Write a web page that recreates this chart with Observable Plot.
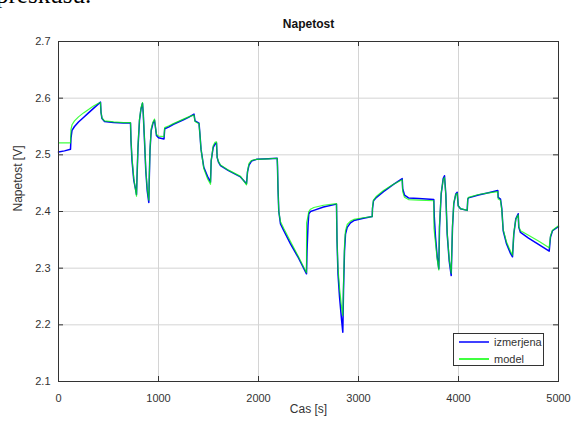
<!DOCTYPE html>
<html>
<head>
<meta charset="utf-8">
<script src="https://cdn.jsdelivr.net/npm/d3@7"></script>
<script src="https://cdn.jsdelivr.net/npm/@observablehq/plot@0.6"></script>
<style>
  html, body { margin: 0; padding: 0; background: white; }
  #wrap { position: relative; width: 574px; height: 421px; overflow: hidden; font-family: "Liberation Sans", Arial, sans-serif; }
  #doctext { position: absolute; left: -4px; top: -19px; font-family: "Liberation Serif", "Times New Roman", serif; font-size: 25px; color: #000; white-space: nowrap; }
  #legend { position: absolute; left: 453px; top: 333px; width: 89px; height: 31px; border: 1px solid #333; background: white; font-size: 11px; color: #333; overflow: hidden; }
  .row { position: absolute; left: 5px; height: 14px; display: flex; align-items: center; }
  .row svg { margin-right: 5px; }
</style>
</head>
<body>
<div id="wrap">
  <div id="chart"></div>
  <div id="doctext">preskusu.</div>
  <div id="legend">
    <div class="row" style="top:1px"><svg width="30" height="4"><line x1="0" x2="30" y1="2" y2="2" stroke="#0000ff" stroke-width="1.5"/></svg><span>izmerjena</span></div>
    <div class="row" style="top:18px"><svg width="30" height="4"><line x1="0" x2="30" y1="2" y2="2" stroke="#00ff00" stroke-width="1.5"/></svg><span>model</span></div>
  </div>
</div>
<script>
const xTicks = [0, 1000, 2000, 3000, 4000, 5000];
const yTicks = [2.1, 2.2, 2.3, 2.4, 2.5, 2.6, 2.7];

const timeMeasured = [0,60,120,125,135,160,200,250,300,350,400,420,425,435,460,550,650,720,725,735,753,770,780,785,795,810,825,840,847,860,873,887,903,908,915,927,945,960,970,980,1000,1055,1062,1100,1150,1200,1250,1300,1355,1365,1405,1415,1425,1453,1490,1520,1527,1547,1565,1580,1587,1600,1620,1700,1820,1880,1890,1905,1930,1980,2100,2187,2190,2195,2203,2220,2253,2320,2400,2480,2485,2495,2503,2520,2553,2650,2780,2785,2795,2810,2830,2843,2850,2860,2870,2887,2920,2953,3050,3137,3140,3150,3180,3250,3350,3437,3442,3460,3500,3600,3753,3758,3770,3787,3803,3810,3827,3847,3860,3873,3887,3907,3927,3940,3953,3973,3987,3997,4020,4087,4093,4100,4200,4300,4393,4397,4420,4433,4447,4480,4520,4540,4553,4573,4597,4603,4620,4700,4800,4907,4920,4940,4987,5000];
const voltageMeasured = [2.505,2.507,2.510,2.530,2.543,2.550,2.558,2.566,2.574,2.582,2.590,2.593,2.575,2.564,2.559,2.557,2.556,2.556,2.525,2.490,2.455,2.440,2.430,2.460,2.513,2.561,2.581,2.591,2.575,2.525,2.472,2.437,2.416,2.460,2.508,2.543,2.556,2.561,2.548,2.534,2.530,2.528,2.546,2.549,2.554,2.558,2.562,2.566,2.572,2.560,2.556,2.535,2.510,2.478,2.462,2.452,2.490,2.513,2.519,2.521,2.495,2.487,2.481,2.472,2.461,2.449,2.470,2.482,2.489,2.492,2.493,2.494,2.480,2.440,2.400,2.378,2.366,2.343,2.318,2.290,2.330,2.375,2.396,2.400,2.402,2.408,2.413,2.350,2.290,2.250,2.210,2.187,2.260,2.330,2.360,2.372,2.380,2.384,2.388,2.391,2.405,2.419,2.425,2.435,2.448,2.458,2.440,2.429,2.424,2.423,2.421,2.390,2.355,2.320,2.299,2.372,2.431,2.458,2.463,2.431,2.360,2.313,2.287,2.372,2.414,2.431,2.434,2.410,2.405,2.402,2.422,2.424,2.429,2.433,2.437,2.425,2.422,2.405,2.366,2.343,2.326,2.320,2.360,2.387,2.396,2.372,2.363,2.353,2.342,2.330,2.355,2.366,2.372,2.373];

const timeModel = [0,120,125,135,160,200,250,300,350,400,420,425,435,460,550,650,720,725,735,753,770,780,785,795,810,825,840,847,860,873,887,903,908,915,927,945,960,970,980,1000,1055,1062,1100,1150,1200,1250,1300,1355,1365,1405,1415,1425,1453,1490,1520,1527,1547,1565,1580,1587,1600,1620,1700,1820,1880,1890,1905,1930,1980,2100,2187,2190,2195,2203,2220,2253,2320,2400,2480,2481,2495,2503,2520,2553,2650,2780,2785,2795,2810,2830,2843,2850,2860,2870,2887,2920,2953,3050,3137,3140,3150,3180,3250,3350,3437,3442,3460,3500,3600,3753,3755,3770,3787,3803,3810,3827,3847,3860,3873,3887,3907,3927,3940,3953,3973,3987,3997,4020,4087,4093,4100,4200,4300,4393,4397,4420,4433,4447,4480,4520,4540,4553,4573,4597,4603,4620,4700,4800,4907,4920,4940,4987,5000];
const voltageModel = [2.521,2.521,2.545,2.553,2.560,2.567,2.574,2.580,2.586,2.591,2.592,2.575,2.565,2.560,2.558,2.557,2.557,2.525,2.495,2.458,2.438,2.427,2.460,2.517,2.563,2.583,2.592,2.575,2.528,2.474,2.442,2.420,2.460,2.510,2.546,2.558,2.563,2.548,2.536,2.533,2.532,2.548,2.551,2.555,2.559,2.563,2.567,2.570,2.559,2.555,2.535,2.510,2.476,2.458,2.448,2.490,2.516,2.522,2.523,2.495,2.488,2.482,2.473,2.462,2.447,2.470,2.485,2.490,2.492,2.493,2.494,2.480,2.440,2.400,2.382,2.370,2.347,2.320,2.292,2.380,2.392,2.400,2.404,2.407,2.411,2.414,2.350,2.300,2.265,2.232,2.216,2.270,2.340,2.366,2.377,2.383,2.386,2.389,2.391,2.408,2.420,2.427,2.437,2.448,2.456,2.435,2.425,2.421,2.420,2.419,2.370,2.345,2.316,2.297,2.375,2.433,2.456,2.460,2.430,2.362,2.316,2.291,2.375,2.416,2.430,2.432,2.410,2.405,2.402,2.423,2.425,2.430,2.433,2.435,2.422,2.420,2.402,2.368,2.346,2.330,2.323,2.362,2.386,2.394,2.373,2.366,2.358,2.348,2.336,2.357,2.367,2.373,2.375];

const measured = timeMeasured.map((t, i) => ({t, v: voltageMeasured[i]}));
const model = timeModel.map((t, i) => ({t, v: voltageModel[i]}));

const W = 574, H = 421, mL = 58, mR = 16, mT = 41, mB = 40;
const plotW = W - mL - mR, plotH = H - mT - mB;
const tick = 5;

const chart = Plot.plot({
  width: W, height: H,
  marginLeft: mL, marginRight: mR, marginTop: mT, marginBottom: mB,
  x: {domain: [0, 5000]},
  y: {domain: [2.1, 2.7]},
  style: {fontFamily: "'Liberation Sans', Arial, sans-serif", fontSize: "11px", color: "#333", background: "white"},
  marks: [
    Plot.gridX(xTicks, {stroke: "#d4d4d4", strokeOpacity: 1}),
    Plot.gridY(yTicks, {stroke: "#d4d4d4", strokeOpacity: 1}),
    Plot.tickX(xTicks, {x: d => d, insetTop: plotH - tick, stroke: "#333"}),
    Plot.tickX(xTicks, {x: d => d, insetBottom: plotH - tick, stroke: "#333"}),
    Plot.tickY(yTicks, {y: d => d, insetRight: plotW - tick, stroke: "#333"}),
    Plot.tickY(yTicks, {y: d => d, insetLeft: plotW - tick, stroke: "#333"}),
    Plot.axisX(xTicks, {tickSize: 0, tickPadding: 13, label: null, tickFormat: d3.format("d"), fill: "#333"}),
    Plot.axisY(yTicks, {tickSize: 0, tickPadding: 8, label: null, tickFormat: d3.format(".1f"), fill: "#333"}),
    Plot.line(measured, {x: "t", y: "v", stroke: "#0000ff", strokeWidth: 1.5}),
    Plot.line(model, {x: "t", y: "v", stroke: "#00ff00", strokeWidth: 1.2, strokeOpacity: 0.75}),
    Plot.frame({stroke: "#333"}),
    Plot.text(["Napetost"], {frameAnchor: "top", dy: -22, fontWeight: "bold", fontSize: 12, fill: "#111"}),
    Plot.text(["Cas [s]"], {frameAnchor: "bottom", dy: 31, fontSize: 12, fill: "#333"}),
    Plot.text(["Napetost [V]"], {frameAnchor: "left", dx: -40, rotate: -90, fontSize: 12, fill: "#333"})
  ]
});
document.getElementById("chart").appendChild(chart);
</script>
</body>
</html>
